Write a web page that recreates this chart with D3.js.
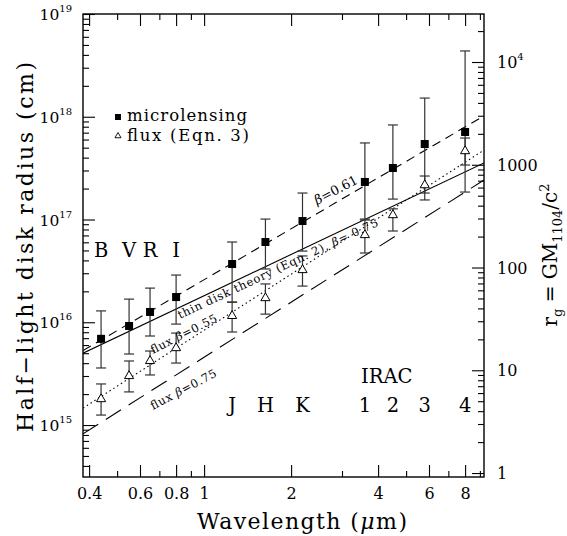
<!DOCTYPE html>
<html>
  <head>
    <meta charset="utf-8">
    <title>Half-light disk radius vs wavelength</title>
    <script src="https://d3js.org/d3.v7.min.js"></script>
    <style>
      body { margin: 0; background: #fff; }
      svg { display: block; font-family: "DejaVu Serif", serif; }
      .tick line { stroke: #000; stroke-width: 1.1; }
    </style>
  </head>
  <body>
    <svg id="chart" width="567" height="536"></svg>
    <script>
      // values: wavelength in microns, radius in cm
      const wavelengths = [0.44, 0.55, 0.65, 0.80, 1.25, 1.63, 2.19, 3.6, 4.5, 5.8, 8.0];
      const lensRadius = [6.9e15, 9.2e15, 1.26e16, 1.76e16, 3.69e16, 6.04e16, 9.67e16, 2.32e17, 3.17e17, 5.43e17, 7.11e17];
      const lensLow = [3.59e15, 4.91e15, 7.35e15, 9.6e15, 1.57e16, 3.30e16, 4.93e16, 1.01e17, 1.58e17, 1.81e17, 1.85e17];
      const lensHigh = [1.29e16, 1.68e16, 2.15e16, 2.88e16, 6.04e16, 1.01e17, 1.81e17, 5.56e17, 8.32e17, 1.52e18, 4.37e18];
      const fluxRadius = [1.83e15, 3.07e15, 4.30e15, 5.74e15, 1.18e16, 1.76e16, 3.30e16, 7.23e16, 1.13e17, 2.21e17, 4.74e17];
      const fluxLow = [1.25e15, 2.10e15, 3.07e15, 4.01e15, 8.04e15, 1.20e16, 2.25e16, 4.72e16, 7.73e16, 1.55e17, 3.39e17];
      const fluxHigh = [2.51e15, 4.20e15, 5.25e15, 7.85e15, 1.57e16, 2.36e16, 4.42e16, 9.89e16, 1.27e17, 2.65e17, 6.21e17];
      // model lines, end points at the frame edges
      const fitLensing = [[0.381, 5.3e15], [9.3, 1.02e18]];
      const thinDisk = [[0.381, 5.0e15], [9.3, 3.55e17]];
      const fitFlux = [[0.381, 1.46e15], [9.3, 4.74e17]];
      const fluxThin = [[0.381, 8.2e14], [9.3, 2.42e17]];
      // axes
      const xDomain = [0.381, 9.3];
      const yDomain = [3.12e14, 1e19];
      const rgUnit = 3.41e14; // GM/c^2 in cm
      const xMajor = [0.4, 0.6, 0.8, 1, 2, 4, 6, 8];
      const xMinor = [0.5, 0.7, 0.9, 3, 5, 7, 9];
      const yExponents = [15, 16, 17, 18, 19];
      const rgMajor = [1, 10, 100, 1000, 10000];
      const rgLabels = ["1", "10", "100", "1000", "10^4"];
      const opticalBands = ["B", "V", "R", "I"];
      const nirBands = ["J", "H", "K"];
      const iracBands = ["1", "2", "3", "4"];

      const svg = d3.select("#chart");
      const frame = { left: 83, right: 484, top: 14, bottom: 477 };

      const x = d3.scaleLog().domain(xDomain).range([frame.left, frame.right]);
      const y = d3.scaleLog().domain(yDomain).range([frame.bottom, frame.top]);
      const rg = d3.scaleLog()
        .domain([yDomain[0] / rgUnit, yDomain[1] / rgUnit])
        .range([frame.bottom, frame.top]);

      svg.append("rect").attr("width", 567).attr("height", 536).attr("fill", "#fff");

      // minor ticks on the log y scales (2..9 of each decade)
      function minorTicks(scale) {
        let out = [];
        let d = scale.domain();
        for (let e = Math.floor(Math.log10(d[0])); e <= Math.ceil(Math.log10(d[1])); e++) {
          for (let m = 2; m <= 9; m++) {
            let v = m * Math.pow(10, e);
            if (v > d[0] && v < d[1]) out.push(v);
          }
        }
        return out;
      }

      function addAxis(axis, tx, ty) {
        let g = svg.append("g")
          .attr("transform", "translate(" + tx + "," + ty + ")")
          .call(axis);
        g.select(".domain").remove();
        return g;
      }

      // x axes, bottom and top
      addAxis(d3.axisBottom(x).tickValues(xMajor).tickSize(-12).tickPadding(11)
        .tickFormat(function(d) { return d; }), 0, frame.bottom)
        .selectAll("text")
          .attr("font-size", 16)
          .attr("font-family", "DejaVu Serif")
          .attr("fill", "#000");
      addAxis(d3.axisBottom(x).tickValues(xMinor).tickSize(-6).tickFormat(""), 0, frame.bottom);
      addAxis(d3.axisTop(x).tickValues(xMajor).tickSize(-12).tickFormat(""), 0, frame.top);
      addAxis(d3.axisTop(x).tickValues(xMinor).tickSize(-6).tickFormat(""), 0, frame.top);

      // left axis, cm
      let yMajor = yExponents.map(function(e) { return Math.pow(10, e); });
      addAxis(d3.axisLeft(y).tickValues(yMajor).tickSize(-12).tickFormat(""), frame.left, 0);
      addAxis(d3.axisLeft(y).tickValues(minorTicks(y)).tickSize(-6).tickFormat(""), frame.left, 0);
      let yLab = svg.append("g")
        .selectAll("text")
        .data(yExponents)
        .join("text")
          .attr("x", 72)
          .attr("y", function(e) { return y(Math.pow(10, e)) + 6; })
          .attr("text-anchor", "end")
          .attr("font-size", 15.5);
      yLab.append("tspan").text("10");
      yLab.append("tspan")
        .attr("font-size", 10)
        .attr("dy", -8)
        .text(function(e) { return e; });

      // right axis, gravitational radii
      addAxis(d3.axisRight(rg).tickValues(rgMajor).tickSize(-12).tickFormat(""), frame.right, 0);
      addAxis(d3.axisRight(rg).tickValues(minorTicks(rg)).tickSize(-6).tickFormat(""), frame.right, 0);
      let rgLab = svg.append("g")
        .selectAll("text")
        .data(rgMajor)
        .join("text")
          .attr("x", 497)
          .attr("y", function(d) { return rg(d) + 6; })
          .attr("font-size", 16);
      rgLab.append("tspan").text(function(d, i) { return rgLabels[i].split("^")[0]; });
      rgLab.filter(function(d, i) { return rgLabels[i].indexOf("^") > 0; })
        .append("tspan")
          .attr("font-size", 10)
          .attr("dy", -8)
          .text(function(d) { return rgLabels[rgMajor.indexOf(d)].split("^")[1]; });

      // frame
      svg.append("rect")
        .attr("x", frame.left)
        .attr("y", frame.top)
        .attr("width", frame.right - frame.left)
        .attr("height", frame.bottom - frame.top)
        .attr("fill", "none")
        .attr("stroke", "#000")
        .attr("stroke-width", 1.4);

      svg.append("clipPath").attr("id", "clip")
        .append("rect")
          .attr("x", frame.left)
          .attr("y", frame.top)
          .attr("width", frame.right - frame.left)
          .attr("height", frame.bottom - frame.top);

      // model lines
      let line = d3.line()
        .x(function(d) { return x(d[0]); })
        .y(function(d) { return y(d[1]); });
      let lines = [
        { data: fitLensing, dash: "9,6" },
        { data: thinDisk, dash: null },
        { data: fitFlux, dash: "1.5,3" },
        { data: fluxThin, dash: "18,9" }
      ];
      svg.append("g")
        .attr("clip-path", "url(#clip)")
        .selectAll("path")
        .data(lines)
        .join("path")
          .attr("d", function(d) { return line(d.data); })
          .attr("fill", "none")
          .attr("stroke", "#000")
          .attr("stroke-width", 1.1)
          .attr("stroke-dasharray", function(d) { return d.dash; });

      // error bars and markers
      function errorBars(lo, hi) {
        let g = svg.append("g")
          .attr("stroke", "#333")
          .attr("stroke-width", 1.2);
        let bars = g.selectAll("g")
          .data(wavelengths)
          .join("g");
        bars.append("line")
          .attr("x1", function(d) { return x(d); })
          .attr("x2", function(d) { return x(d); })
          .attr("y1", function(d, i) { return y(lo[i]); })
          .attr("y2", function(d, i) { return y(hi[i]); });
        [lo, hi].forEach(function(arr) {
          bars.append("line")
            .attr("x1", function(d) { return x(d) - 5; })
            .attr("x2", function(d) { return x(d) + 5; })
            .attr("y1", function(d, i) { return y(arr[i]); })
            .attr("y2", function(d, i) { return y(arr[i]); });
        });
      }
      errorBars(lensLow, lensHigh);
      errorBars(fluxLow, fluxHigh);

      svg.append("g")
        .selectAll("rect")
        .data(wavelengths)
        .join("rect")
          .attr("x", function(d) { return x(d) - 4; })
          .attr("y", function(d, i) { return y(lensRadius[i]) - 4; })
          .attr("width", 8)
          .attr("height", 8)
          .attr("fill", "#000");

      let tri = d3.symbol().type(d3.symbolTriangle).size(36);
      svg.append("g")
        .selectAll("path")
        .data(wavelengths)
        .join("path")
          .attr("d", tri)
          .attr("transform", function(d, i) { return "translate(" + x(d) + "," + (y(fluxRadius[i]) + 1) + ")"; })
          .attr("fill", "#fff")
          .attr("stroke", "#000")
          .attr("stroke-width", 1);

      // legend
      svg.append("rect").attr("x", 115).attr("y", 114).attr("width", 6).attr("height", 6).attr("fill", "#000");
      svg.append("path")
        .attr("d", d3.symbol().type(d3.symbolTriangle).size(16))
        .attr("transform", "translate(118,136)")
        .attr("fill", "#fff")
        .attr("stroke", "#000")
        .attr("stroke-width", 0.9);
      svg.append("text").attr("x", 127).attr("y", 121).attr("font-size", 16.5)
        .attr("textLength", 120).text("microlensing");
      svg.append("text").attr("x", 127).attr("y", 141).attr("font-size", 16.5)
        .attr("textLength", 122).text("flux (Eqn. 3)");

      // band names
      svg.append("g")
        .selectAll("text")
        .data(opticalBands)
        .join("text")
          .attr("x", function(d, i) { return x(wavelengths[i]); })
          .attr("y", 257)
          .attr("text-anchor", "middle")
          .attr("font-size", 19.5)
          .text(function(d) { return d; });
      svg.append("g")
        .selectAll("text")
        .data(nirBands.concat(iracBands))
        .join("text")
          .attr("x", function(d, i) { return x(wavelengths[i + 4]); })
          .attr("y", 412)
          .attr("text-anchor", "middle")
          .attr("font-size", 19.5)
          .text(function(d) { return d; });
      svg.append("text").attr("x", 361).attr("y", 383).attr("font-size", 19.5).text("IRAC");

      // labels along the lines
      function slanted(px, py, angle, size, parts, len) {
        let t = svg.append("text")
          .attr("transform", "translate(" + px + "," + py + ") rotate(" + angle + ")")
          .attr("font-size", size);
        if (len) t.attr("textLength", len);
        parts.forEach(function(p) {
          t.append("tspan")
            .attr("font-style", p[1] ? "italic" : null)
            .text(p[0]);
        });
      }
      slanted(317, 205, -28, 13, [["β", true], ["=0.61", false]]);
      slanted(180, 319, -25.2, 11.5, [["thin disk theory (Eqn. 2), ", false], ["β", true], ["= 0.75", false]], 220);
      slanted(153, 354, -27, 11.5, [["flux ", false], ["β", true], ["=0.55", false]], 73);
      slanted(153, 410, -28, 11.5, [["flux ", false], ["β", true], ["=0.75", false]], 73);

      // axis titles
      svg.append("text")
        .attr("transform", "translate(33,247) rotate(-90)")
        .attr("text-anchor", "middle")
        .attr("font-size", 22)
        .attr("textLength", 370)
        .text("Half\u2212light disk radius (cm)");
      let xt = svg.append("text")
        .attr("x", 302)
        .attr("y", 529)
        .attr("text-anchor", "middle")
        .attr("font-size", 22)
        .attr("textLength", 210);
      xt.append("tspan").text("Wavelength (");
      xt.append("tspan").attr("font-style", "italic").text("μ");
      xt.append("tspan").text("m)");
      let rt = svg.append("text")
        .attr("transform", "translate(557,255) rotate(-90)")
        .attr("text-anchor", "middle")
        .attr("font-size", 20);
      rt.append("tspan").text("r");
      rt.append("tspan").attr("font-size", 13).attr("dy", 5).text("g");
      rt.append("tspan").attr("dy", -5).text(" = GM");
      rt.append("tspan").attr("font-size", 13).attr("dy", 5).text("1104");
      rt.append("tspan").attr("dy", -5).text("/c");
      rt.append("tspan").attr("font-size", 13).attr("dy", -8).text("2");
    </script>
  </body>
</html>
